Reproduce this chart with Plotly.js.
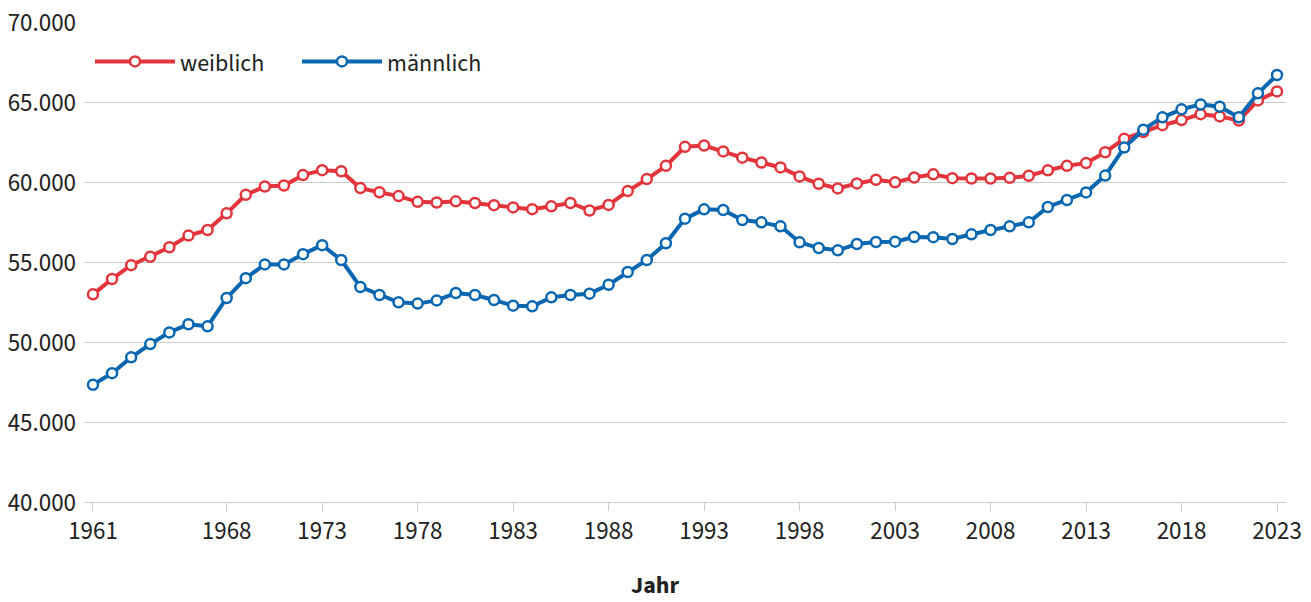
<!DOCTYPE html>
<html>
<head>
<meta charset="utf-8">
<script src="https://cdn.plot.ly/plotly-3.0.1.min.js"></script>
<style>
  html, body { margin: 0; padding: 0; background: #ffffff; }
  #chart { width: 1311px; height: 602px; }
</style>
</head>
<body>
<div id="chart"></div>
<script>
const years = [1961,1962,1963,1964,1965,1966,1967,1968,1969,1970,
  1971,1972,1973,1974,1975,1976,1977,1978,1979,1980,
  1981,1982,1983,1984,1985,1986,1987,1988,1989,1990,
  1991,1992,1993,1994,1995,1996,1997,1998,1999,2000,
  2001,2002,2003,2004,2005,2006,2007,2008,2009,2010,
  2011,2012,2013,2014,2015,2016,2017,2018,2019,2020,
  2021,2022,2023];

const weiblich = [52980,53940,54800,55330,55920,56650,57000,58040,59200,59720,
  59780,60430,60740,60670,59620,59360,59120,58760,58720,58790,
  58690,58550,58410,58300,58480,58690,58220,58570,59430,60180,
  61010,62200,62280,61910,61520,61220,60910,60350,59890,59600,
  59910,60140,59980,60280,60480,60240,60220,60220,60260,60390,
  60730,61010,61180,61860,62700,63120,63550,63870,64240,64100,
  63840,65100,65660];

const maennlich = [47330,48050,49040,49870,50600,51110,50980,52750,53990,54850,
  54850,55490,56050,55125,53440,52940,52480,52400,52600,53060,
  52940,52625,52270,52230,52790,52940,53020,53580,54375,55125,
  56170,57710,58290,58250,57625,57480,57230,56230,55875,55730,
  56125,56250,56270,56560,56550,56440,56730,57000,57230,57480,
  58440,58875,59350,60400,62150,63270,64040,64540,64850,64710,
  64040,65540,66690];

const xTickVals = [1961,1968,1973,1978,1983,1988,1993,1998,2003,2008,2013,2018,2023];
const yTickVals = [40000,45000,50000,55000,60000,65000,70000];

const seriesNames = ['weiblich','männlich'];
const colors = ['#e4343b','#0867b0'];
const xTitle = 'Jahr';

const FONT = '"Source Sans Pro","Source Sans 3","Noto Sans","Open Sans",sans-serif';
const TXT = '#222222';

function mkTrace(y, i) {
  return {
    x: years, y: y, name: seriesNames[i], type: 'scatter', mode: 'lines+markers',
    line: {color: colors[i], width: 4},
    marker: {symbol: 'circle', size: 10, color: '#ffffff', line: {color: colors[i], width: 2.5}},
    hoverinfo: 'x+y'
  };
}

const data = [mkTrace(weiblich, 0), mkTrace(maennlich, 1)];

const layout = {
  width: 1311, height: 602,
  margin: {l: 84, r: 25, t: 22, b: 100},
  paper_bgcolor: '#ffffff', plot_bgcolor: '#ffffff',
  separators: ',.',
  font: {family: FONT, size: 25, color: TXT},
  showlegend: true,
  legend: {
    orientation: 'h', x: 0.005, y: 0.964, xanchor: 'left', yanchor: 'top',
    font: {family: FONT, size: 24, color: TXT},
    bgcolor: 'rgba(0,0,0,0)', itemwidth: 80, traceorder: 'normal',
    entrywidth: 112, entrywidthmode: 'pixels'
  },
  xaxis: {
    range: [1960.53, 2023.47],
    tickmode: 'array', tickvals: xTickVals, ticktext: xTickVals.map(String),
    showgrid: false, zeroline: false,
    showline: true, linecolor: '#cccccc', linewidth: 1,
    ticks: 'outside', ticklen: 8, tickcolor: '#cccccc', tickwidth: 1,
    ticklabelstandoff: -2,
    tickfont: {family: FONT, size: 25, color: TXT},
    automargin: false
  },
  yaxis: {
    range: [40000, 70000],
    tickmode: 'array', tickvals: yTickVals, tickformat: ',d',
    showgrid: true, gridcolor: '#cccccc', gridwidth: 1,
    zeroline: false, showline: false, ticks: '',
    ticklabelstandoff: 7,
    tickfont: {family: FONT, size: 25, color: TXT},
    automargin: false
  },
  annotations: [{
    text: '<b>' + xTitle + '</b>', xref: 'paper', yref: 'paper',
    x: 0.4755, y: -0.174, xanchor: 'center', yanchor: 'middle', showarrow: false,
    font: {family: FONT, size: 24, color: TXT}
  }]
};

Plotly.newPlot('chart', data, layout, {displayModeBar: false, staticPlot: true});
</script>
</body>
</html>
